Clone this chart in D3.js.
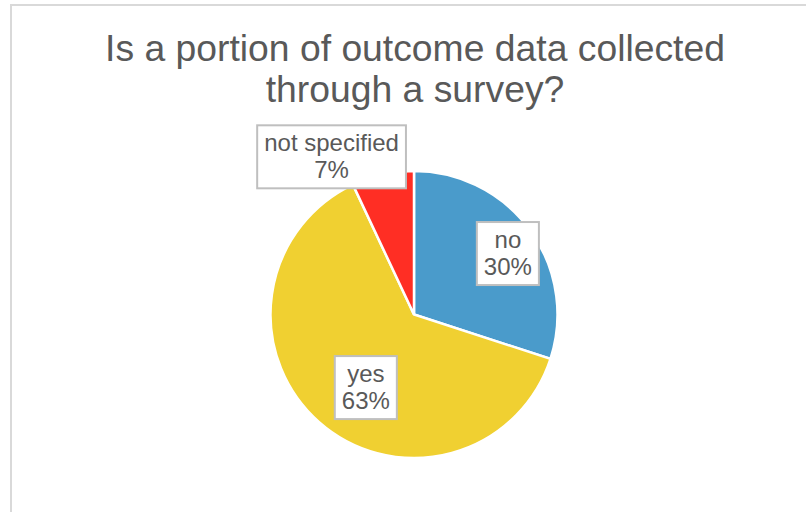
<!DOCTYPE html>
<html>
<head>
<meta charset="utf-8">
<script src="https://cdn.jsdelivr.net/npm/d3@7/dist/d3.min.js"></script>
<style>
  html, body { margin: 0; padding: 0; background: #fff; }
  svg { display: block; font-family: "Liberation Sans", Arial, sans-serif; }
</style>
</head>
<body>
<svg id="chart" width="806" height="512"></svg>
<script>
// Survey answers, shares in percent
const categories = ["no", "yes", "not specified"];
const values = [30, 63, 7];
const colors = ["#4A9BCB", "#F0D031", "#FF2E24"];
const titleLines = ["Is a portion of outcome data collected", "through a survey?"];

const W = 806, H = 512;
const cx = 414, cy = 314.5, R = 143.5;

const svg = d3.select("#chart");

// chart frame
svg.append("rect")
  .attr("x", 11).attr("y", 5)
  .attr("width", 830).attr("height", 560)
  .attr("fill", "#fff")
  .attr("stroke", "#D9D9D9")
  .attr("stroke-width", 2);

// title
svg.append("text")
  .attr("x", 415)
  .attr("y", 61)
  .attr("text-anchor", "middle")
  .attr("fill", "#595959")
  .style("font-size", "37.3px")
  .selectAll("tspan")
  .data(titleLines)
  .join("tspan")
  .attr("x", 415)
  .attr("dy", (d, i) => i === 0 ? 0 : 41)
  .text(d => d);

const data = categories.map((c, i) => ({ name: c, value: values[i], color: colors[i] }));

const pie = d3.pie().sort(null).value(d => d.value).startAngle(0).endAngle(2 * Math.PI);
const arcs = pie(data);
const arc = d3.arc().innerRadius(0).outerRadius(R);

const g = svg.append("g").attr("transform", `translate(${cx},${cy})`);

g.selectAll("path.slice")
  .data(arcs)
  .join("path")
  .attr("class", "slice")
  .attr("d", arc)
  .attr("fill", d => d.data.color)
  .attr("stroke", "#fff")
  .attr("stroke-width", 2.5)
  .attr("stroke-linejoin", "miter");

// label placement: radial distance (fraction of R) and angle shift (deg) per slice
const labelPlace = [
  { r: 0.78, shift: 3 },
  { r: 0.61, shift: -8 },
  { r: 1.24, shift: -15 }
];

const fmt = d => Math.round(d.value / d3.sum(values) * 100) + "%";
const lineH = 27;
const fontSize = 24;

arcs.forEach((a, i) => {
  const mid = (a.startAngle + a.endAngle) / 2 + labelPlace[i].shift * Math.PI / 180;
  const rr = labelPlace[i].r * R;
  const lx = Math.sin(mid) * rr;
  const ly = -Math.cos(mid) * rr;

  const lg = g.append("g").attr("transform", `translate(${lx},${ly})`);
  const box = lg.append("rect")
    .attr("fill", "#fff")
    .attr("stroke", "#BFBFBF")
    .attr("stroke-width", 2);
  const t = lg.append("text")
    .attr("text-anchor", "middle")
    .attr("fill", "#595959")
    .style("font-size", fontSize + "px");
  const lines = [a.data.name, fmt(a.data)];
  t.selectAll("tspan")
    .data(lines)
    .join("tspan")
    .attr("x", 0)
    .attr("y", (d, j) => -lineH / 2 + 8 + j * lineH)
    .text(d => d);

  const bb = t.node().getBBox();
  const padX = 7, padY = 4;
  box.attr("x", bb.x - padX)
    .attr("y", -31.5)
    .attr("width", bb.width + 2 * padX)
    .attr("height", 63);
});
</script>
</body>
</html>
